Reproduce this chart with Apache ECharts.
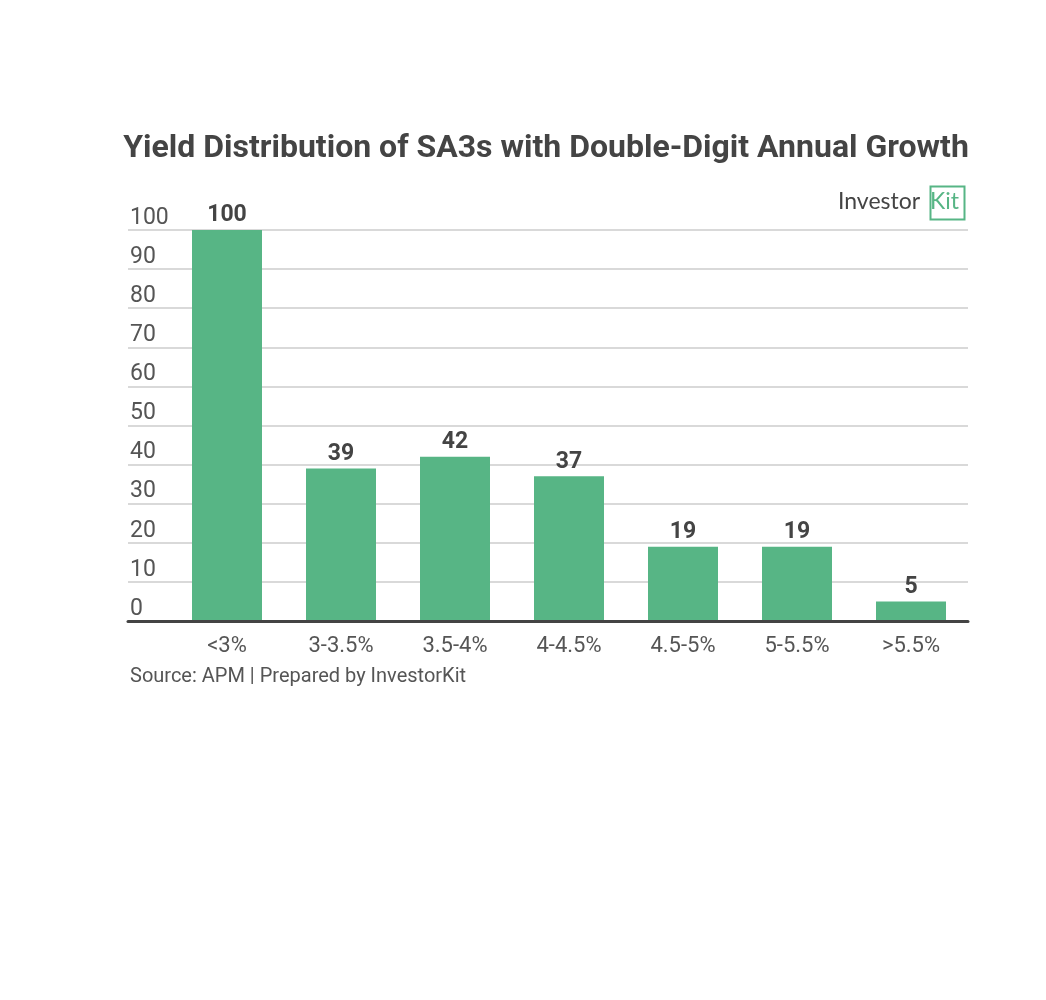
<!DOCTYPE html>
<html><head><meta charset="utf-8">
<script src="https://cdn.jsdelivr.net/npm/echarts@6/dist/echarts.min.js"></script>
<style>html,body{margin:0;padding:0;background:#fff}#c{width:1046px;height:1000px}</style>
</head><body><div id="c"></div>
<script>
const categories = ['<3%', '3-3.5%', '3.5-4%', '4-4.5%', '4.5-5%', '5-5.5%', '>5.5%'];
const values = [100, 39, 42, 37, 19, 19, 5];
const yMin = 0, yMax = 100, yStep = 10;
const titleText = 'Yield Distribution of SA3s with Double-Digit Annual Growth';
const sourceText = 'Source: APM | Prepared by InvestorKit';

const chart = echarts.init(document.getElementById('c'), null, {renderer: 'canvas'});
const FONT = 'Roboto';
chart.setOption({
  backgroundColor: '#ffffff',
  animation: false,
  title: {
    text: titleText, left: 541, top: 128, textAlign: 'center',
    textStyle: {fontFamily: FONT, fontWeight: 'bold', fontSize: 32, color: '#444444'}
  },
  grid: [
    {left: 128, right: 78, top: 230, bottom: 379},
    {left: 170, right: 78, top: 230, bottom: 379}
  ],
  xAxis: [
    {gridIndex: 0, type: 'category', data: categories, z: 5,
      axisLine: {show: true, lineStyle: {color: '#444444', width: 3}},
      axisTick: {show: false}, axisLabel: {show: false}},
    {gridIndex: 1, type: 'category', data: categories,
      axisLine: {show: false},
      axisTick: {show: false},
      axisLabel: {fontFamily: FONT, fontSize: 22, color: '#555555', margin: 14}
    }
  ],
  yAxis: [
    {gridIndex: 0, type: 'value', min: yMin, max: yMax, interval: yStep,
      axisLine: {show: false}, axisTick: {show: false},
      splitLine: {lineStyle: {color: '#d9d9d9', width: 2}},
      axisLabel: {inside: true, margin: 2, verticalAlign: 'bottom', lineHeight: 24,
        fontFamily: FONT, fontSize: 23, color: '#555555'}
    },
    {gridIndex: 1, type: 'value', min: yMin, max: yMax, interval: yStep, show: false}
  ],
  series: [{
    type: 'bar', xAxisIndex: 1, yAxisIndex: 1, data: values, barWidth: 70,
    itemStyle: {color: '#57B585'},
    label: {show: true, position: 'top', distance: 3,
      fontFamily: FONT, fontWeight: 'bold', fontSize: 23, color: '#444444'}
  }],
  graphic: [
    {type: 'text', left: 130, top: 667,
      style: {text: sourceText, fontFamily: FONT, fontSize: 20, fill: '#555555'}},
    {type: 'text', left: 838, top: 190,
      style: {text: 'Investor', fontFamily: 'Lato', fontSize: 23, fill: '#444444'}},
    {type: 'rect', left: 928, top: 184, shape: {x: 0, y: 0, width: 34, height: 33},
      style: {fill: 'none', stroke: '#57B585', lineWidth: 2}},
    {type: 'text', left: 930, top: 190,
      style: {text: 'Kit', fontFamily: 'Lato', fontSize: 23, fill: '#57B585'}}
  ]
});
</script></body></html>
